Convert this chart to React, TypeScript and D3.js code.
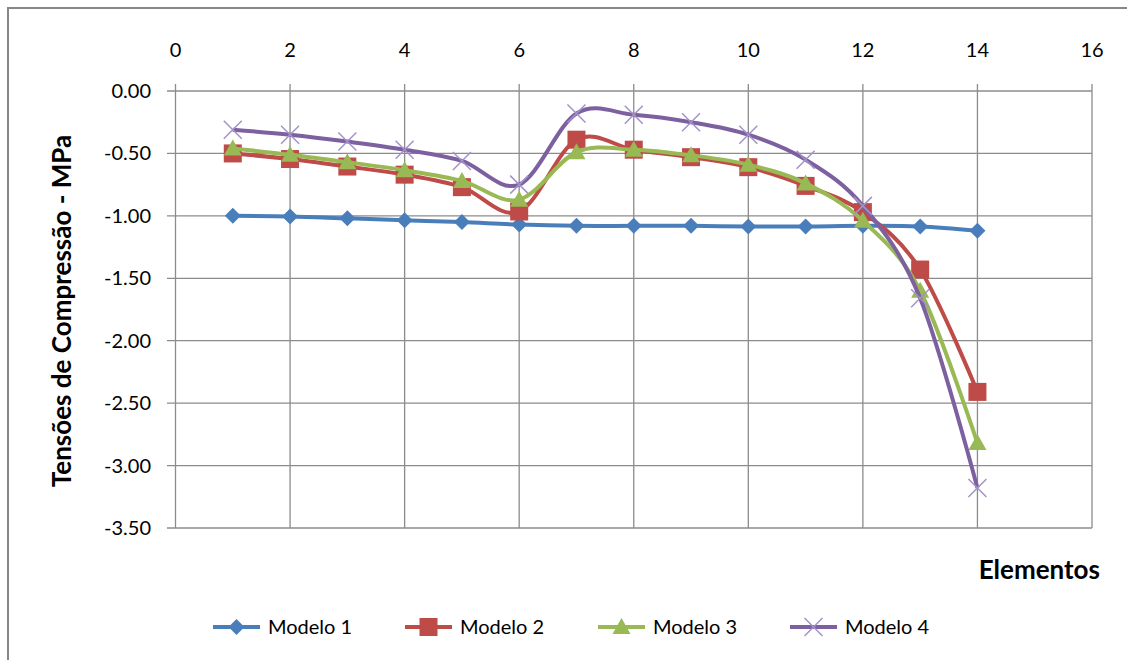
import React from "react";
import * as d3 from "d3";

const elements = [1, 2, 3, 4, 5, 6, 7, 8, 9, 10, 11, 12, 13, 14];
const modelo1 = [-1.0, -1.005, -1.02, -1.035, -1.05, -1.07, -1.08, -1.08, -1.08, -1.085, -1.085, -1.08, -1.085, -1.12];
const modelo2 = [-0.5, -0.545, -0.605, -0.67, -0.77, -0.965, -0.39, -0.47, -0.53, -0.61, -0.76, -0.97, -1.43, -2.41];
const modelo3 = [-0.46, -0.51, -0.57, -0.635, -0.72, -0.87, -0.49, -0.47, -0.515, -0.59, -0.74, -1.04, -1.6, -2.82];
const modelo4 = [-0.31, -0.35, -0.405, -0.47, -0.56, -0.75, -0.18, -0.19, -0.25, -0.35, -0.55, -0.92, -1.66, -3.18];
const seriesNames = ["Modelo 1", "Modelo 2", "Modelo 3", "Modelo 4"];
const xTicks = [0, 2, 4, 6, 8, 10, 12, 14, 16];
const yTicks = [0, -0.5, -1, -1.5, -2, -2.5, -3, -3.5];

const colors = ["#4A7EBB", "#BE4B48", "#98B954", "#7D60A0"];
const markerColors = ["#4A7EBB", "#BE4B48", "#98B954", "#A392C9"];
const FONT = "Lato, 'Open Sans', sans-serif";

function Marker({ kind, x, y, color }: { kind: number; x: number; y: number; color: string }) {
  if (kind === 0) {
    const s = 8;
    return <path d={`M${x},${y - s}L${x + s},${y}L${x},${y + s}L${x - s},${y}Z`} fill={color} />;
  }
  if (kind === 1) {
    const s = 9;
    return <rect x={x - s} y={y - s} width={2 * s} height={2 * s} fill={color} />;
  }
  if (kind === 2) {
    return <path d={`M${x},${y - 9}L${x + 9},${y + 7}L${x - 9},${y + 7}Z`} fill={color} />;
  }
  const s = 9;
  return (
    <path
      d={`M${x - s},${y - s}L${x + s},${y + s}M${x - s},${y + s}L${x + s},${y - s}`}
      stroke={color}
      strokeWidth={1.5}
      fill="none"
    />
  );
}

export default function App() {
  const x = d3.scaleLinear().domain([0, 16]).range([175.5, 1092]);
  const y = d3.scaleLinear().domain([0, -3.5]).range([91, 528]);
  const data = [modelo1, modelo2, modelo3, modelo4];
  const line = d3
    .line<[number, number]>()
    .x((d) => x(d[0]))
    .y((d) => y(d[1]))
    .curve(d3.curveCardinal.tension(0));
  const grid = "#8C8C8C";
  const legendX = [213, 405, 598, 790];

  return (
    <svg
      width={1127}
      height={660}
      style={{ position: "absolute", left: 0, top: 0, background: "#fff" }}
      fontFamily={FONT}
    >
      <rect x={8} y={8} width={1140} height={680} fill="#fff" stroke="#878787" strokeWidth={2} />
      {xTicks.map((t) => (
        <line key={"vx" + t} x1={x(t)} x2={x(t)} y1={84} y2={528} stroke={grid} strokeWidth={1.3} />
      ))}
      {yTicks.map((t) => (
        <line key={"hy" + t} x1={167} x2={x(16)} y1={y(t)} y2={y(t)} stroke={grid} strokeWidth={1.3} />
      ))}
      {xTicks.map((t) => (
        <text key={"xl" + t} x={x(t)} y={57} textAnchor="middle" fontSize={20} fill="#000">
          {t}
        </text>
      ))}
      {yTicks.map((t) => (
        <text key={"yl" + t} x={151} y={y(t) + 7} textAnchor="end" fontSize={20} fill="#000">
          {t.toFixed(2)}
        </text>
      ))}
      {data.map((vals, si) => {
        const pts = elements.map((e, i) => [e, vals[i]] as [number, number]);
        return (
          <g key={"s" + si}>
            <path d={line(pts) || ""} fill="none" stroke={colors[si]} strokeWidth={4} strokeLinejoin="round" />
            {pts.map((p, i) => (
              <Marker key={i} kind={si} x={x(p[0])} y={y(p[1])} color={markerColors[si]} />
            ))}
          </g>
        );
      })}
      <text
        transform={`translate(71,311) rotate(-90)`}
        textAnchor="middle"
        fontSize={26}
        fontWeight="bold"
        fill="#000"
      >
        Tensões de Compressão - MPa
      </text>
      <text x={1100} y={579} textAnchor="end" fontSize={26} fontWeight="bold" fill="#000">
        Elementos
      </text>
      {seriesNames.map((n, i) => (
        <g key={"lg" + i}>
          <line x1={legendX[i]} x2={legendX[i] + 47} y1={627} y2={627} stroke={colors[i]} strokeWidth={4} />
          <Marker kind={i} x={legendX[i] + 23.5} y={627} color={markerColors[i]} />
          <text x={legendX[i] + 55} y={634} fontSize={20} fill="#000">
            {n}
          </text>
        </g>
      ))}
    </svg>
  );
}
